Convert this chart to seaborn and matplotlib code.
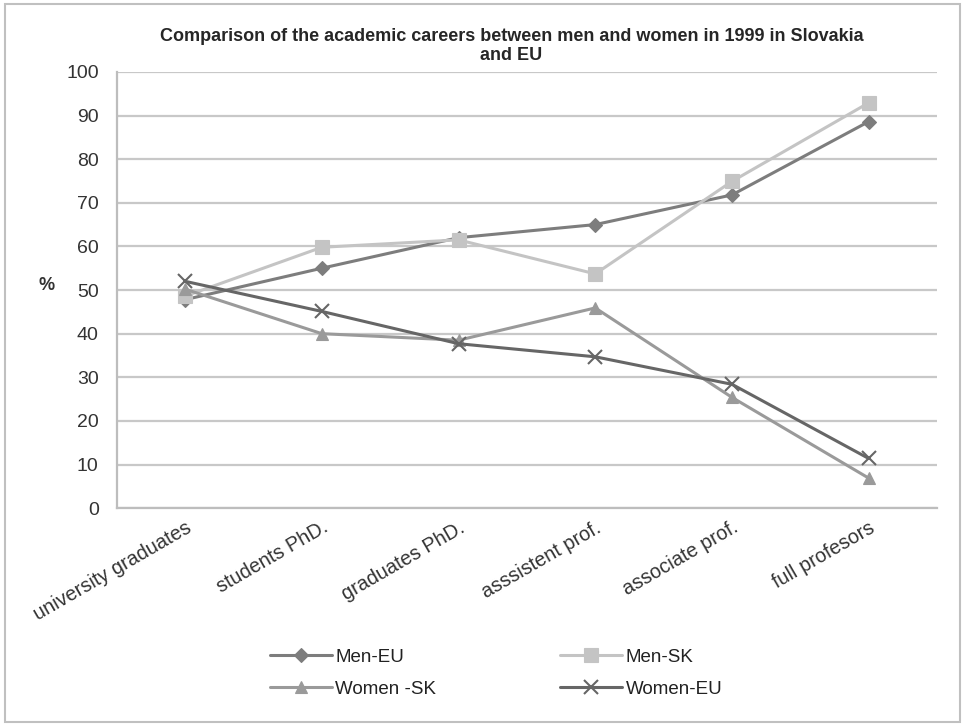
import pandas as pd
import seaborn as sns
import matplotlib.pyplot as plt
from matplotlib.patches import Rectangle

# data
categories = ["university graduates", "students PhD.", "graduates PhD.",
              "asssistent prof.", "associate prof.", "full profesors"]
men_eu = [47.8, 55.0, 62.0, 65.0, 71.8, 88.6]
men_sk = [48.6, 59.8, 61.5, 53.7, 74.9, 92.9]
women_sk = [50.2, 40.0, 38.5, 45.9, 25.4, 6.9]
women_eu = [52.0, 45.1, 37.7, 34.7, 28.4, 11.4]

series = ["Men-EU", "Men-SK", "Women -SK", "Women-EU"]
values = [men_eu, men_sk, women_sk, women_eu]

# long table for seaborn
df = pd.concat([pd.DataFrame({"stage": categories, "pct": v, "series": s})
                for s, v in zip(series, values)], ignore_index=True)

sns.set_style("white")
plt.rcParams['font.family'] = ['Liberation Sans', 'DejaVu Sans']

colors = {"Men-EU": "#7d7d7d", "Men-SK": "#c4c4c4",
          "Women -SK": "#9a9a9a", "Women-EU": "#666666"}
markers = {"Men-EU": "D", "Men-SK": "s", "Women -SK": "^", "Women-EU": "x"}
msizes = {"Men-EU": 7, "Men-SK": 10, "Women -SK": 9, "Women-EU": 10}

fig = plt.figure(figsize=(9.65, 7.26), dpi=100)
ax = fig.add_axes([0.121, 0.300, 0.850, 0.601])

for s in series:
    sub = df[df["series"] == s]
    sns.lineplot(data=sub, x="stage", y="pct", ax=ax, sort=False,
                 color=colors[s], linewidth=2.2, marker=markers[s],
                 markersize=msizes[s], markeredgewidth=1.5 if s == "Women-EU" else 0.8,
                 markeredgecolor=colors[s], label=s)

ax.set_ylim(0, 100)
ax.set_xlim(-0.5, len(categories) - 0.5)
ax.set_yticks(range(0, 101, 10))
ax.grid(axis="y", color="#c8c8c8", linewidth=1.6)
ax.set_axisbelow(True)
for side in ["top", "right"]:
    ax.spines[side].set_visible(False)
for side in ["left", "bottom"]:
    ax.spines[side].set_color("#bdbdbd")
    ax.spines[side].set_linewidth(1.6)

# category boundary ticks on x axis
ax.set_xticks([i - 0.5 for i in range(len(categories) + 1)], minor=True)
ax.tick_params(axis="x", which="minor", length=6, width=1.4, color="#bdbdbd", direction="out")
ax.tick_params(axis="x", which="major", length=0, pad=7)
ax.tick_params(axis="y", length=7, width=1.4, color="#bdbdbd", direction="out",
               labelsize=14, labelcolor="#333333", pad=6)
ax.set_xticks(range(len(categories)))
ax.set_xticklabels(categories, rotation=30, ha="right", rotation_mode="anchor",
                   fontsize=14.3, color="#333333")
ax.set_xlabel("")
ax.set_ylabel("%", rotation=0, fontsize=13, fontweight="bold", color="#333333")
ax.yaxis.set_label_coords(-0.085, 0.49)

fig.text(0.53, 0.937, "Comparison of the academic careers between men and women in 1999 in Slovakia\nand EU",
         ha="center", va="center", fontsize=13, fontweight="bold", linespacing=1.12)

ax.get_legend().remove()
handles, labels = ax.get_legend_handles_labels()
order = [0, 2, 1, 3]  # fill legend row by row
fig.legend([handles[i] for i in order], [labels[i] for i in order], ncol=2, loc="center",
           bbox_to_anchor=(0.514, 0.073), frameon=False, fontsize=13.5, handlelength=3.3,
           handletextpad=0.2, columnspacing=6.6, labelspacing=0.8, labelcolor="#222222")

fig.patches.append(Rectangle((0.005, 0.006), 0.99, 0.988, transform=fig.transFigure,
                             fill=False, edgecolor="#c0c0c0", linewidth=1.5))

fig.savefig("out.png", dpi=100)
